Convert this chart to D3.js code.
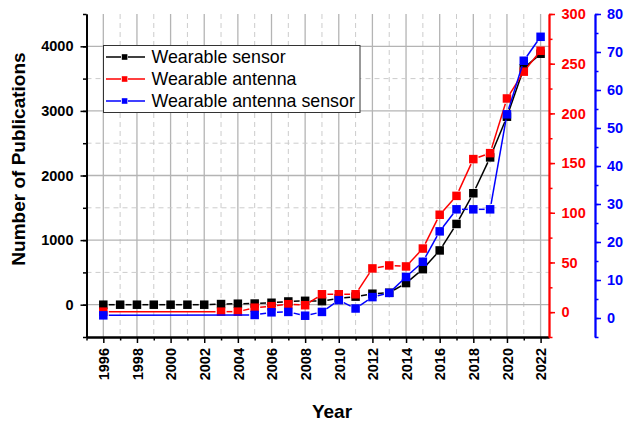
<!DOCTYPE html>
<html lang="en">
<head>
<meta charset="utf-8">
<title>Publications</title>
<script src="https://cdn.jsdelivr.net/npm/d3@7"></script>
<style>
  body { margin: 0; background: #fff; }
  svg { font-family: "Liberation Sans", Arial, sans-serif; }
  .tick text { font-size: 14.5px; font-weight: bold; }
  .grid-major { stroke: #b4b4b4; stroke-width: 1.3px; }
  .grid-minor { stroke: #cccccc; stroke-width: 1px; stroke-dasharray: 5,4; }
</style>
</head>
<body>
<div id="chart"></div>
<script>
// data
var years = [1996, 1997, 1998, 1999, 2000, 2001, 2002, 2003, 2004, 2005, 2006, 2007, 2008, 2009,
             2010, 2011, 2012, 2013, 2014, 2015, 2016, 2017, 2018, 2019, 2020, 2021, 2022];
var sensor = [0, 0, 0, 0, 0, 0, 0, 10, 15, 18, 30, 50, 60, 55,
              100, 125, 170, 185, 335, 550, 840, 1250, 1725, 2280, 2910, 3660, 3885];
var antenna = [0.5, null, null, null, null, null, null, 0.5, 0.5, 4.5, 6, 8, 7, 18,
               18, 18, 44, 47, 46, 64, 98, 117, 154, 160, 215, 242, 263];
var antennaSensor = [0.7, null, null, null, null, null, null, null, null, 0.8, 1.5, 1.6, 0.6, 1.6,
                     4.7, 2.5, 5.5, 6.6, 10.8, 14.8, 22.8, 28.6, 28.6, 28.6, 53.6, 67.7, 74];
var seriesNames = ["Wearable sensor", "Wearable antenna", "Wearable antenna sensor"];
var seriesColors = ["#000000", "#ff0000", "#0000ff"];
var leftTicks = [0, 1000, 2000, 3000, 4000];
var redTicks = [0, 50, 100, 150, 200, 250, 300];
var blueTicks = [0, 10, 20, 30, 40, 50, 60, 70, 80];

var width = 624, height = 424;
var plotL = 86.5, plotR = 549, plotT = 14, plotB = 337;

var svg = d3.select("#chart").append("svg")
    .attr("width", width)
    .attr("height", height);

var x = d3.scaleLinear().domain([1995, 2022.5]).range([plotL, plotR]);
var yL = d3.scaleLinear().domain([-500, 4500]).range([plotB, plotT]);
var yR = d3.scaleLinear().domain([-25, 300]).range([plotB, plotT]);
var yB = d3.scaleLinear().domain([-5, 80]).range([plotB, plotT]);

// grid
var evenYears = years.filter(function(d) { return d % 2 === 0; });
var oddYears = years.filter(function(d) { return d % 2 !== 0; });
var grid = svg.append("g");
grid.selectAll(".vmin").data(oddYears).enter().append("line")
    .attr("class", "grid-minor")
    .attr("x1", x).attr("x2", x).attr("y1", plotT).attr("y2", plotB);
grid.selectAll(".vmaj").data(evenYears).enter().append("line")
    .attr("class", "grid-major")
    .attr("x1", x).attr("x2", x).attr("y1", plotT).attr("y2", plotB);
grid.selectAll(".hmin").data([500, 1500, 2500, 3500]).enter().append("line")
    .attr("class", "grid-minor")
    .attr("x1", plotL).attr("x2", plotR).attr("y1", yL).attr("y2", yL);
grid.selectAll(".hmaj").data(leftTicks).enter().append("line")
    .attr("class", "grid-major")
    .attr("x1", plotL).attr("x2", plotR).attr("y1", yL).attr("y2", yL);

// series, lines broken a little around each marker like Origin does
var series = [
  { vals: sensor, y: yL, color: seriesColors[0] },
  { vals: antenna, y: yR, color: seriesColors[1] },
  { vals: antennaSensor, y: yB, color: seriesColors[2] }
];
var gap = 5.5, msize = 8.5;

series.forEach(function(s) {
  var pts = [];
  years.forEach(function(yr, i) {
    if (s.vals[i] != null) pts.push([x(yr), s.y(s.vals[i])]);
  });
  var g = svg.append("g");
  for (var i = 1; i < pts.length; i++) {
    var a = pts[i - 1], b = pts[i];
    var dx = b[0] - a[0], dy = b[1] - a[1];
    var len = Math.sqrt(dx * dx + dy * dy);
    if (len <= 2 * gap) continue;
    var ux = dx / len, uy = dy / len;
    g.append("line")
      .attr("x1", a[0] + ux * gap).attr("y1", a[1] + uy * gap)
      .attr("x2", b[0] - ux * gap).attr("y2", b[1] - uy * gap)
      .attr("stroke", s.color)
      .attr("stroke-width", 1.5);
  }
  g.selectAll("rect").data(pts).enter().append("rect")
    .attr("x", function(d) { return d[0] - msize / 2; })
    .attr("y", function(d) { return d[1] - msize / 2; })
    .attr("width", msize).attr("height", msize)
    .attr("fill", s.color);
});

// axes
function minor(sc, step) {
  var d = sc.domain(), out = [];
  for (var v = d[0]; v <= d[1] + 1e-9; v += step) out.push(v);
  return out;
}

svg.append("g").attr("transform", "translate(" + plotL + ",0)")
    .call(d3.axisLeft(yL).tickValues(minor(yL, 500)).tickSize(3.5).tickSizeOuter(0).tickFormat(""));
svg.append("g").attr("transform", "translate(" + plotL + ",0)")
    .call(d3.axisLeft(yL).tickValues(leftTicks).tickSize(6).tickPadding(7).tickSizeOuter(0).tickFormat(d3.format("d")));

svg.append("g").attr("transform", "translate(0," + plotB + ")")
    .call(d3.axisBottom(x).tickValues([1995].concat(oddYears)).tickSize(3.5).tickSizeOuter(0).tickFormat(""));
svg.append("g").attr("transform", "translate(0," + plotB + ")")
    .call(d3.axisBottom(x).tickValues(evenYears).tickSize(6).tickSizeOuter(0).tickFormat(d3.format("d")))
  .selectAll("text")
    .attr("transform", "rotate(-90)")
    .attr("text-anchor", "end")
    .attr("x", -11).attr("y", 0).attr("dy", "0.36em");

var red = svg.append("g").attr("transform", "translate(" + plotR + ",0)");
red.call(d3.axisRight(yR).tickValues(minor(yR, 25)).tickSize(3.5).tickSizeOuter(0).tickFormat(""));
red.append("g").call(d3.axisRight(yR).tickValues(redTicks).tickSize(6).tickPadding(6.5).tickSizeOuter(0));

var blueX = 595;
var blue = svg.append("g").attr("transform", "translate(" + blueX + ",0)");
blue.call(d3.axisRight(yB).tickValues(minor(yB, 5)).tickSize(3.5).tickSizeOuter(0).tickFormat(""));
blue.append("g").call(d3.axisRight(yB).tickValues(blueTicks).tickSize(6).tickPadding(6).tickSizeOuter(0));

svg.selectAll(".domain").attr("stroke-width", 1.8);
svg.selectAll(".tick line").attr("stroke-width", 1.5);
red.selectAll(".domain, .tick line").attr("stroke", seriesColors[1]);
red.selectAll(".tick text").attr("fill", seriesColors[1]);
blue.selectAll(".domain, .tick line").attr("stroke", seriesColors[2]);
blue.selectAll(".tick text").attr("fill", seriesColors[2]);

// titles
svg.append("text")
    .attr("transform", "translate(25,159) rotate(-90)")
    .attr("text-anchor", "middle")
    .style("font-size", "19px").style("font-weight", "bold")
    .text("Number of Publications");
svg.append("text")
    .attr("x", 332).attr("y", 418)
    .attr("text-anchor", "middle")
    .style("font-size", "19px").style("font-weight", "bold")
    .text("Year");

// legend
var legend = svg.append("g");
legend.append("rect")
    .attr("x", 103.5).attr("y", 45.5).attr("width", 256.5).attr("height", 67)
    .attr("fill", "#fff").attr("stroke", "#333").attr("stroke-width", 1);
seriesNames.forEach(function(name, i) {
  var ly = 57 + i * 22;
  var c = seriesColors[i];
  legend.append("line").attr("x1", 106).attr("x2", 121).attr("y1", ly).attr("y2", ly)
    .attr("stroke", c).attr("stroke-width", 1.5);
  legend.append("line").attr("x1", 128).attr("x2", 145).attr("y1", ly).attr("y2", ly)
    .attr("stroke", c).attr("stroke-width", 1.5);
  legend.append("rect").attr("x", 121.8).attr("y", ly - 2.8).attr("width", 5.6).attr("height", 5.6)
    .attr("fill", c);
  legend.append("text").attr("x", 151.5).attr("y", ly).attr("dy", "0.35em")
    .style("font-size", "17.8px")
    .text(name);
});
</script>
</body>
</html>
